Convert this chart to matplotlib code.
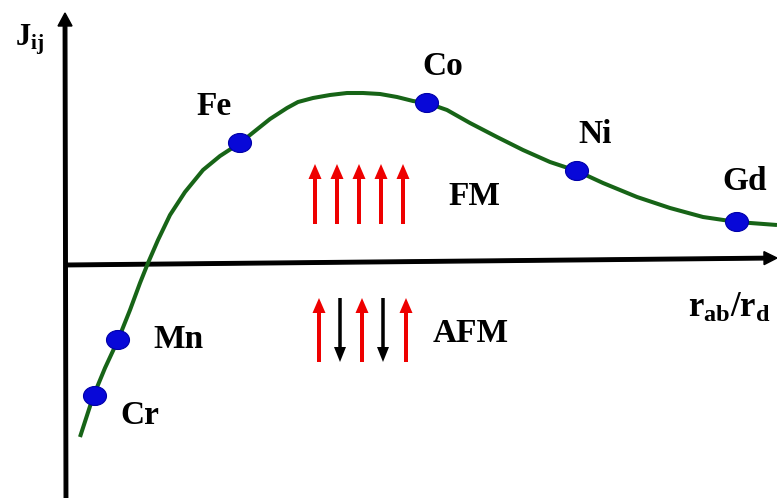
import matplotlib
matplotlib.use("Agg")
import matplotlib.pyplot as plt
from matplotlib.patches import Ellipse

plt.rcParams["mathtext.fontset"] = "custom"
plt.rcParams["mathtext.rm"] = "Liberation Serif"
plt.rcParams["mathtext.bf"] = "Liberation Serif:bold"

# Bethe-Slater curve, exchange integral J_ij against r_ab/r_d (arbitrary units)
curve_x = [0.12, 0.25, 0.37, 0.50, 0.62, 0.72, 0.80, 0.90, 1.02, 1.17, 1.35, 1.52,
           1.72, 1.87, 2.02, 2.19, 2.30, 2.45, 2.62, 2.79, 2.95, 3.12, 3.29,
           3.45, 3.59, 3.79, 4.02, 4.29, 4.55, 4.82, 5.09, 5.35, 5.69, 6.02, 6.35,
           6.69, 7.09]
curve_y = [-1.72, -1.32, -1.03, -0.75, -0.45, -0.18, 0.02, 0.25, 0.50, 0.73, 0.95, 1.09,
           1.22, 1.34, 1.46, 1.57, 1.63, 1.67, 1.70, 1.72, 1.72, 1.71, 1.68,
           1.64, 1.62, 1.55, 1.42, 1.28, 1.15, 1.03, 0.94, 0.82, 0.68, 0.57, 0.48,
           0.43, 0.40]

elements = ["Cr", "Mn", "Fe", "Co", "Ni", "Gd"]
elem_x = [0.27, 0.50, 1.72, 3.59, 5.09, 6.69]
elem_y = [-1.31, -0.75, 1.22, 1.62, 0.94, 0.43]
# label offset from each marker
label_dx = [0.25, 0.35, -0.44, -0.05, 0.01, -0.15]
label_dy = [-0.28, -0.08, 0.28, 0.28, 0.28, 0.32]

# spin sketches: +1 up (red), -1 down (black)
fm_x = [2.47, 2.69, 2.91, 3.13, 3.35]
fm_spin = [1, 1, 1, 1, 1]
afm_x = [2.51, 2.72, 2.94, 3.15, 3.38]
afm_spin = [1, -1, 1, -1, 1]

fig = plt.figure(figsize=(7.77, 4.98), dpi=100)
ax = fig.add_axes([0, 0, 1, 1])
ax.set_xlim(-0.68, 7.09)
ax.set_ylim(-2.33, 2.65)
ax.axis("off")

# axes drawn as arrows
ax.arrow(-0.02, -2.45, -0.01, 4.97, width=0.035, head_width=0.14, head_length=0.13,
         length_includes_head=True, color="k", zorder=2)
ax.arrow(-0.03, 0.0, 7.12, 0.07, width=0.035, head_width=0.13, head_length=0.13,
         length_includes_head=True, color="k", zorder=2)

ax.plot(curve_x, curve_y, color="#176417", lw=2.9, solid_joinstyle="round",
        solid_capstyle="butt", zorder=3)

font = dict(family="Liberation Serif", weight="bold", fontsize=24)
for name, x, y, dx, dy in zip(elements, elem_x, elem_y, label_dx, label_dy):
    ax.add_patch(Ellipse((x, y), 0.23, 0.19, facecolor="#0808d8", edgecolor="#0000a8",
                         lw=0.8, zorder=4))
    ax.text(x + dx, y + dy, name, ha="left", va="baseline", **font)


def spin(x, s, y_lo, y_hi):
    if s > 0:
        ax.arrow(x, y_lo, 0, y_hi - y_lo, width=0.04, head_width=0.13, head_length=0.15,
                 length_includes_head=True, color="#ee0000", lw=0)
    else:
        ax.arrow(x, y_hi, 0, y_lo - y_hi, width=0.035, head_width=0.12, head_length=0.15,
                 length_includes_head=True, color="k", lw=0)


for x, s in zip(fm_x, fm_spin):
    spin(x, s, 0.41, 1.01)
for x, s in zip(afm_x, afm_spin):
    spin(x, s, -0.97, -0.33)

ax.text(3.80, 0.60, "FM", ha="left", va="baseline", **font)
ax.text(3.65, -0.77, "AFM", ha="left", va="baseline", **font)

ax.text(-0.53, 2.20, r"$\mathbf{J_{ij}}$", ha="left", va="baseline", fontsize=22)
ax.text(6.20, -0.52, r"$\mathbf{r_{ab}/r_{d}}$", ha="left", va="baseline", fontsize=25)

fig.savefig("out.png", dpi=100)
